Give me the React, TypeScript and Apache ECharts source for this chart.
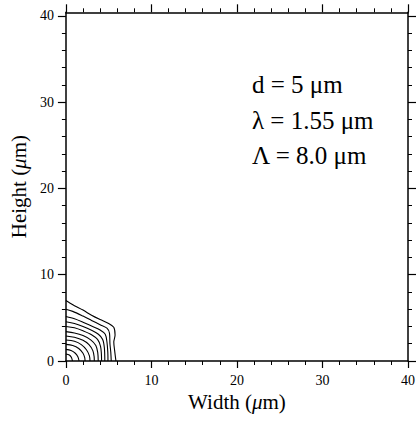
import React, { useEffect, useRef } from "react";
import * as echarts from "echarts";

// Contour lines (width x, height y) in µm, outermost to innermost
const contour0 = [[0, 7.0], [0.5, 6.7], [1.0, 6.4], [2.0, 5.9], [3.0, 5.3], [4.0, 4.8], [5.0, 4.35], [5.6, 3.9], [5.75, 3.0], [5.6, 2.2], [5.7, 1.2], [5.85, 0]];
const contour1 = [[0, 6.0], [0.8, 5.75], [2.0, 5.2], [3.0, 4.7], [4.0, 4.2], [4.8, 3.8], [5.1, 3.2], [5.15, 2.0], [5.25, 1.0], [5.3, 0]];
const contour2 = [[0, 5.15], [1.0, 4.9], [2.0, 4.5], [3.0, 4.05], [4.0, 3.6], [4.6, 3.1], [4.8, 2.2], [4.9, 1.0], [4.92, 0]];
const contour3 = [[0, 4.55], [1.0, 4.35], [2.0, 4.0], [3.0, 3.55], [3.8, 3.1], [4.3, 2.5], [4.5, 1.5], [4.55, 0]];
const contour4 = [[0, 4.0], [1.0, 3.85], [2.0, 3.5], [3.0, 3.05], [3.7, 2.5], [4.05, 1.7], [4.15, 0.8], [4.17, 0]];
const contour5 = [[0, 3.4], [1.0, 3.25], [2.0, 2.95], [2.9, 2.45], [3.5, 1.8], [3.72, 1.0], [3.78, 0]];
const contour6 = [[0, 2.9], [1.0, 2.75], [2.0, 2.4], [2.7, 1.9], [3.15, 1.2], [3.3, 0.5], [3.32, 0]];
const contour7 = [[0, 2.43], [1.0, 2.28], [1.8, 1.9], [2.4, 1.3], [2.75, 0.6], [2.82, 0]];
const contour8 = [[0, 1.93], [0.8, 1.8], [1.5, 1.45], [2.0, 0.9], [2.2, 0.4], [2.24, 0]];
const contour9 = [[0, 1.35], [0.6, 1.22], [1.1, 0.9], [1.4, 0.5], [1.54, 0]];
const contour10 = [[0, 0.81], [0.4, 0.7], [0.65, 0.4], [0.77, 0]];

const contours = [contour0, contour1, contour2, contour3, contour4, contour5, contour6, contour7, contour8, contour9, contour10];

const majorTicks = [0, 10, 20, 30, 40];
const minorTicksY = [2, 4, 6, 8, 12, 14, 16, 18, 22, 24, 26, 28, 32, 34, 36, 38];
const annotations = ["d = 5 \u03bcm", "\u03bb = 1.55 \u03bcm", "\u039b = 8.0 \u03bcm"];

const FONT = "Liberation Serif";

export default function App() {
  const ref = useRef<HTMLDivElement>(null);
  useEffect(() => {
    if (!ref.current) return;
    const chart = echarts.init(ref.current, undefined, { renderer: "svg" });
    const axisLine = { show: true, onZero: false, lineStyle: { color: "#000", width: 1.5 } };
    const noLine = { show: false, onZero: false };
    const xBase = {
      type: "value" as const,
      min: 0,
      max: 40,
      interval: 10,
      axisLine,
      splitLine: { show: false },
    };
    const yBase = {
      type: "value" as const,
      min: 0,
      max: 40.4,
      axisLine,
      splitLine: { show: false },
    };
    chart.setOption({
      animation: false,
      backgroundColor: "#fff",
      textStyle: { fontFamily: FONT },
      title: annotations.map((t, i) => ({
        text: t,
        left: 252,
        top: 72 + i * 35.5,
        padding: 0,
        textStyle: { color: "#000", fontSize: 25, fontWeight: "normal", fontFamily: FONT },
      })),
      grid: { left: 65.7, right: 8.7, top: 12.3, bottom: 60, containLabel: false },
      xAxis: [
        {
          ...xBase,
          position: "bottom",
          axisTick: { show: true, inside: false, length: 7, lineStyle: { color: "#000", width: 1.2 } },
          minorTick: { show: true, splitNumber: 5, length: 4, lineStyle: { color: "#000", width: 1 } },
          axisLabel: { show: true, margin: 12, color: "#000", fontSize: 14, fontFamily: FONT },
          name: "Width ({i|\u03bc}m)",
          nameLocation: "middle",
          nameGap: 22,
          nameTextStyle: {
            color: "#000",
            fontSize: 21,
            fontFamily: FONT,
            rich: { i: { fontStyle: "italic", fontSize: 21, fontFamily: FONT, color: "#000" } },
          },
        },
        {
          ...xBase,
          position: "top",
          axisTick: { show: true, inside: false, length: 8, lineStyle: { color: "#000", width: 1.2 } },
          minorTick: { show: true, splitNumber: 5, length: 4, lineStyle: { color: "#000", width: 1 } },
          axisLabel: { show: false },
        },
      ],
      yAxis: [
        {
          ...yBase,
          position: "left",
          axisTick: { show: true, inside: false, length: 8, customValues: majorTicks, lineStyle: { color: "#000", width: 1.2 } },
          axisLabel: { show: true, margin: 12, color: "#000", fontSize: 14, fontFamily: FONT, customValues: majorTicks },
          name: "Height ({i|\u03bc}m)",
          nameLocation: "middle",
          nameGap: 33,
          nameRotate: 90,
          nameTextStyle: {
            color: "#000",
            fontSize: 21,
            fontFamily: FONT,
            rich: { i: { fontStyle: "italic", fontSize: 21, fontFamily: FONT, color: "#000" } },
          },
        },
        {
          ...yBase,
          position: "left",
          axisLine: noLine,
          axisTick: { show: true, inside: false, length: 4, customValues: minorTicksY, lineStyle: { color: "#000", width: 1 } },
          axisLabel: { show: false, customValues: minorTicksY },
        },
        {
          ...yBase,
          position: "right",
          axisTick: { show: true, inside: false, length: 8, customValues: majorTicks, lineStyle: { color: "#000", width: 1.2 } },
          axisLabel: { show: false, customValues: majorTicks },
        },
        {
          ...yBase,
          position: "right",
          axisLine: noLine,
          axisTick: { show: true, inside: false, length: 4, customValues: minorTicksY, lineStyle: { color: "#000", width: 1 } },
          axisLabel: { show: false, customValues: minorTicksY },
        },
      ],
      series: contours.map((c) => ({
        type: "line",
        xAxisIndex: 0,
        yAxisIndex: 0,
        data: c,
        showSymbol: false,
        smooth: 0.3,
        lineStyle: { color: "#000", width: 1.1 },
        silent: true,
      })),
    });
    return () => chart.dispose();
  }, []);
  return <div ref={ref} style={{ position: "fixed", left: 0, top: 0, width: 418, height: 421 }} />;
}
